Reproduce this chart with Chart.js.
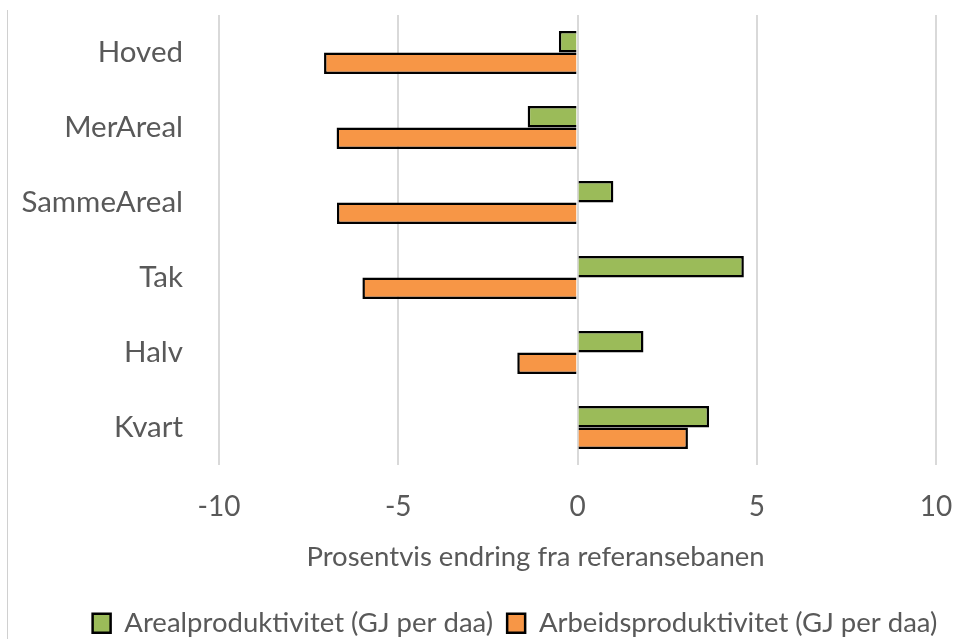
<!DOCTYPE html>
<html>
<head>
<meta charset="utf-8">
<script src="https://cdn.jsdelivr.net/npm/chart.js@4.4.1/dist/chart.umd.min.js"></script>
<style>
  html, body { margin: 0; padding: 0; background: #ffffff; }
  #wrap { position: relative; width: 957px; height: 639px; overflow: hidden; background: #fff; }
  #edge { position: absolute; left: 7px; top: 10px; width: 1px; height: 629px; background: #d0d0d0; }
  canvas { position: absolute; left: 0; top: 0; }
</style>
</head>
<body>
<div id="wrap">
  <canvas id="c" width="957" height="639"></canvas>
  <div id="edge"></div>
</div>
<script>
const categories = ["Hoved", "MerAreal", "SammeAreal", "Tak", "Halv", "Kvart"];
const arealValues = [-0.52, -1.39, 1.0, 4.64, 1.84, 3.67];
const arbeidsValues = [-7.07, -6.72, -6.71, -6.0, -1.68, 3.08];
const seriesNames = ["Arealproduktivitet (GJ per daa)", "Arbeidsproduktivitet (GJ per daa)"];
const xTicks = [-10, -5, 0, 5, 10];
const axisTitle = "Prosentvis endring fra referansebanen";

const FONT = "Lato, 'Open Sans', sans-serif";
const TXT = "#595959";

const legendShift = {
  id: "legendShift",
  afterLayout(chart) {
    const lg = chart.legend;
    if (!lg) return;
    const dx = 47, dy = 8;
    lg.left += dx; lg.right += dx;
    lg.top += dy; lg.bottom += dy;
  }
};

function shiftTitle(scale) {
  if (scale._titleShifted) return;
  scale._titleShifted = true;
  const orig = scale.drawTitle.bind(scale);
  scale.drawTitle = function () {
    const l = this.left, r = this.right;
    this.left = l - 42; this.right = r - 42;
    orig();
    this.left = l; this.right = r;
  };
}

new Chart(document.getElementById("c"), {
  type: "bar",
  data: {
    labels: categories,
    datasets: [
      { label: seriesNames[0], data: arealValues, backgroundColor: "#9BBB59", borderColor: "#000000", borderWidth: 2.5 },
      { label: seriesNames[1], data: arbeidsValues, backgroundColor: "#F79646", borderColor: "#000000", borderWidth: 2.5 }
    ]
  },
  plugins: [legendShift],
  options: {
    indexAxis: "y",
    responsive: false,
    animation: false,
    devicePixelRatio: 1,
    layout: { padding: { top: 15, right: 21, left: 0, bottom: 0 } },
    datasets: { bar: { barPercentage: 1.0, categoryPercentage: 0.575 } },
    scales: {
      x: {
        min: -10, max: 10,
        afterBuildTicks: (s) => { s.ticks = xTicks.map(v => ({ value: v })); },
        afterFit: (s) => { s.height = 122.5; s.paddingLeft = 0; s.paddingRight = 0; shiftTitle(s); },
        grid: { color: "#d9d9d9", lineWidth: 2, drawTicks: false },
        border: { display: false },
        ticks: { color: TXT, font: { family: FONT, size: 28 }, padding: 25, maxRotation: 0 },
        title: { display: true, text: axisTitle, color: TXT, font: { family: FONT, size: 27.5 }, padding: { top: 0, bottom: 14 } }
      },
      y: {
        afterFit: (s) => { s.width = 219; s.paddingTop = 0; s.paddingBottom = 0; },
        grid: { display: false, drawTicks: false },
        border: { display: false },
        ticks: { color: TXT, font: { family: FONT, size: 29.5 }, padding: 36 }
      }
    },
    plugins: {
      legend: {
        position: "bottom",
        labels: { color: TXT, font: { family: FONT, size: 27.5 }, boxWidth: 18, boxHeight: 19, padding: 14 }
      },
      tooltip: { enabled: false }
    }
  }
});
</script>
</body>
</html>
